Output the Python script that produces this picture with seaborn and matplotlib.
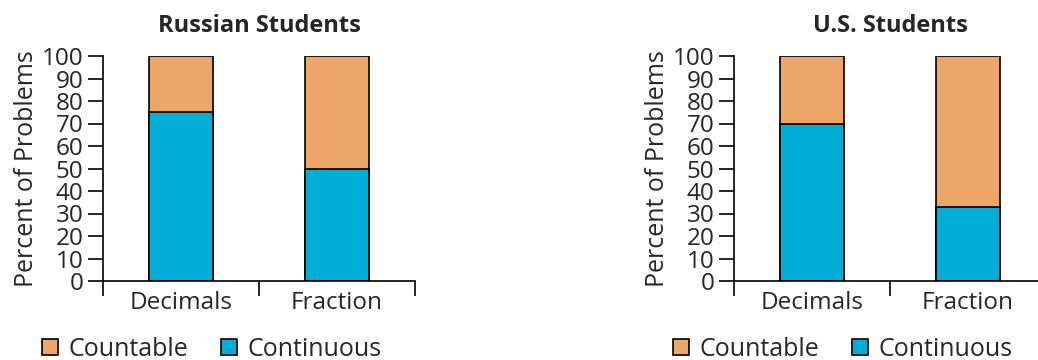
import matplotlib
matplotlib.use("Agg")
import matplotlib.pyplot as plt
import seaborn as sns
import pandas as pd
from matplotlib.patches import Patch
from matplotlib.ticker import FixedLocator

categories = ["Decimals", "Fraction"]
russian_continuous = [75, 50]
us_continuous = [70, 33]
totals = [100, 100]
panel_titles = ["Russian Students", "U.S. Students"]
series_names = ["Countable", "Continuous"]
yticks = list(range(0, 101, 10))

COL_COUNT = "#EDA56A"
COL_CONT = "#00AFD7"

sns.set_theme(style="white")
plt.rcParams["font.family"] = ["Open Sans", "DejaVu Sans"]

fig = plt.figure(figsize=(10.38, 3.6), dpi=100)
W, H = 1038, 360
axes_px = [(103, 56, 312, 225), (734, 56, 312, 225)]
FS = 17.5

for (x0, ytop, w, h), title, cont in zip(axes_px, panel_titles, [russian_continuous, us_continuous]):
    ax = fig.add_axes([x0 / W, 1 - (ytop + h) / H, w / W, h / H])
    df_tot = pd.DataFrame({"cat": categories, "val": totals})
    df_cont = pd.DataFrame({"cat": categories, "val": cont})
    sns.barplot(data=df_tot, x="cat", y="val", color=COL_COUNT, width=0.41,
                edgecolor="black", linewidth=1.2, ax=ax, saturation=1)
    sns.barplot(data=df_cont, x="cat", y="val", color=COL_CONT, width=0.41,
                edgecolor="black", linewidth=1.2, ax=ax, saturation=1)
    ax.set_xlim(-0.5, 1.5)
    ax.set_ylim(0, 100)
    ax.set_yticks(yticks)
    ax.set_xlabel("")
    ax.set_ylabel("Percent of Problems", fontsize=18, labelpad=2)
    ax.set_title(title, fontsize=17, fontweight="bold", pad=17)
    for s in ["top", "right"]:
        ax.spines[s].set_visible(False)
    for s in ["left", "bottom"]:
        ax.spines[s].set_color("black")
        ax.spines[s].set_linewidth(1.2)
    ax.tick_params(axis="y", which="major", length=11, width=1.2, color="black",
                   direction="out", labelsize=FS, pad=3, left=True)
    ax.tick_params(axis="x", which="major", length=0, labelsize=FS, pad=7)
    ax.xaxis.set_minor_locator(FixedLocator([-0.5, 0.5, 1.5]))
    ax.tick_params(axis="x", which="minor", length=11, width=1.2, color="black",
                   direction="out", bottom=True)

    handles = [Patch(facecolor=COL_COUNT, edgecolor="black", linewidth=1.2),
               Patch(facecolor=COL_CONT, edgecolor="black", linewidth=1.2)]
    fig.legend(handles, series_names, loc="center left",
               bbox_to_anchor=((x0 - 61) / W, 1 - 349 / H), ncol=2, frameon=False,
               fontsize=18, handlelength=0.62, handleheight=0.62,
               handletextpad=0.45, columnspacing=1.3, borderpad=0, borderaxespad=0)

fig.savefig("out.png", dpi=100)
